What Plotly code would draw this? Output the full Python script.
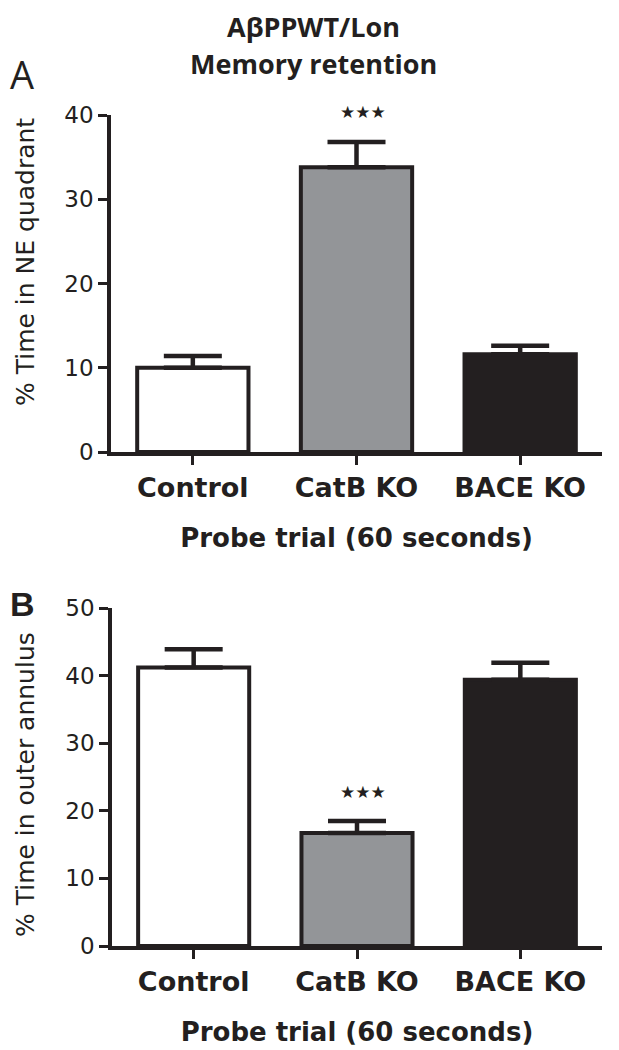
import plotly.graph_objects as go

categories = ["Control", "CatB KO", "BACE KO"]
bar_colors = ["#ffffff", "#939598", "#231f20"]

# Panel A: % Time in NE quadrant
a_values = [10.0, 33.8, 11.6]
a_errors = [1.4, 3.0, 1.0]
a_star_y = 40.3
a_ticks = [0, 10, 20, 30, 40]
a_range = [0, 40]
a_ytitle = "% Time in NE quadrant"

# Panel B: % Time in outer annulus
b_values = [41.2, 16.7, 39.4]
b_errors = [2.7, 1.8, 2.5]
b_star_y = 22.8
b_ticks = [0, 10, 20, 30, 40, 50]
b_range = [0, 50]
b_ytitle = "% Time in outer annulus"

xtitle = "Probe trial (60 seconds)"

OFF = 8  # page body margin
W, H = 619 - OFF, 1050 - OFF

def px_x(p):
    return (p - OFF) / W

def px_y(p):
    return 1 - (p - OFF) / H

a_dom = [px_y(452), px_y(115)]
b_dom = [px_y(946), px_y(608)]

fig = go.Figure()

def add_panel(values, errors, xa, ya):
    fig.add_trace(go.Bar(
        x=categories, y=values, width=0.68,
        marker=dict(color=bar_colors, line=dict(color="#231f20", width=4)),
        error_y=dict(type="data", symmetric=False, array=errors,
                     arrayminus=[0] * len(errors),
                     color="#231f20", thickness=4.5, width=29),
        xaxis=xa, yaxis=ya, showlegend=False,
    ))

add_panel(a_values, a_errors, "x", "y")
add_panel(b_values, b_errors, "x2", "y2")

axis_line = dict(showline=True, linecolor="#231f20", linewidth=3.5,
                 ticks="outside", ticklen=9, tickwidth=3, tickcolor="#231f20",
                 showgrid=False, zeroline=False, automargin=False)

xcommon = dict(type="category", range=[-0.5, 2.5],
               tickfont=dict(family="DejaVu Sans", size=27, weight="bold", color="#231f20"),
               title=dict(text=xtitle,
                          font=dict(family="DejaVu Sans", size=26, weight="bold", color="#231f20"),
                          standoff=28),
               **axis_line)

ycommon = dict(tickfont=dict(family="DejaVu Sans", size=23, color="#231f20"), **axis_line)

fig.update_layout(
    width=W, height=H,
    margin=dict(l=0, r=0, t=0, b=0),
    paper_bgcolor="white", plot_bgcolor="white",
    template="none",
    xaxis=dict(domain=[px_x(111), px_x(602)], anchor="y", **xcommon),
    yaxis=dict(domain=a_dom, anchor="x", range=a_range, tickvals=a_ticks, **ycommon),
    xaxis2=dict(domain=[px_x(112), px_x(602)], anchor="y2", **xcommon),
    yaxis2=dict(domain=b_dom, anchor="x2", range=b_range, tickvals=b_ticks, **ycommon),
)

def data_to_paper(v, rng, dom):
    return dom[0] + (v - rng[0]) / (rng[1] - rng[0]) * (dom[1] - dom[0])

star_font = dict(family="DejaVu Sans", size=17, color="#231f20")
ytitle_font = dict(family="DejaVu Sans", size=25, color="#231f20")
annotations = [
    dict(text="<b>AβPPWT/Lon</b>", x=px_x(313), y=px_y(26), xref="paper", yref="paper",
         xanchor="center", yanchor="middle",
         showarrow=False, font=dict(family="Open Sans", size=27, color="#231f20")),
    dict(text="<b>Memory retention</b>", x=px_x(313), y=px_y(63), xref="paper", yref="paper",
         xanchor="center", yanchor="middle",
         showarrow=False, font=dict(family="Open Sans", size=27, color="#231f20")),
    dict(text="A", x=px_x(22), y=px_y(74), xref="paper", yref="paper",
         xanchor="center", yanchor="middle",
         showarrow=False, font=dict(family="Open Sans", size=38, color="#231f20")),
    dict(text="<b>B</b>", x=px_x(22), y=px_y(604), xref="paper", yref="paper",
         xanchor="center", yanchor="middle",
         showarrow=False, font=dict(family="Liberation Sans", size=34, color="#231f20")),
    dict(text=a_ytitle, x=px_x(25), y=px_y(262), xref="paper", yref="paper",
         xanchor="center", yanchor="middle", textangle=-90,
         showarrow=False, font=ytitle_font),
    dict(text=b_ytitle, x=px_x(25), y=px_y(785), xref="paper", yref="paper",
         xanchor="center", yanchor="middle", textangle=-90,
         showarrow=False, font=ytitle_font),
    dict(text="★★★", x="CatB KO", y=data_to_paper(a_star_y, a_range, a_dom),
         xref="x", yref="paper", xshift=6, xanchor="center", yanchor="middle",
         showarrow=False, font=star_font),
    dict(text="★★★", x="CatB KO", y=data_to_paper(b_star_y, b_range, b_dom),
         xref="x2", yref="paper", xshift=6, xanchor="center", yanchor="middle",
         showarrow=False, font=star_font),
]
fig.update_layout(annotations=annotations)

fig.write_html("out.html")
